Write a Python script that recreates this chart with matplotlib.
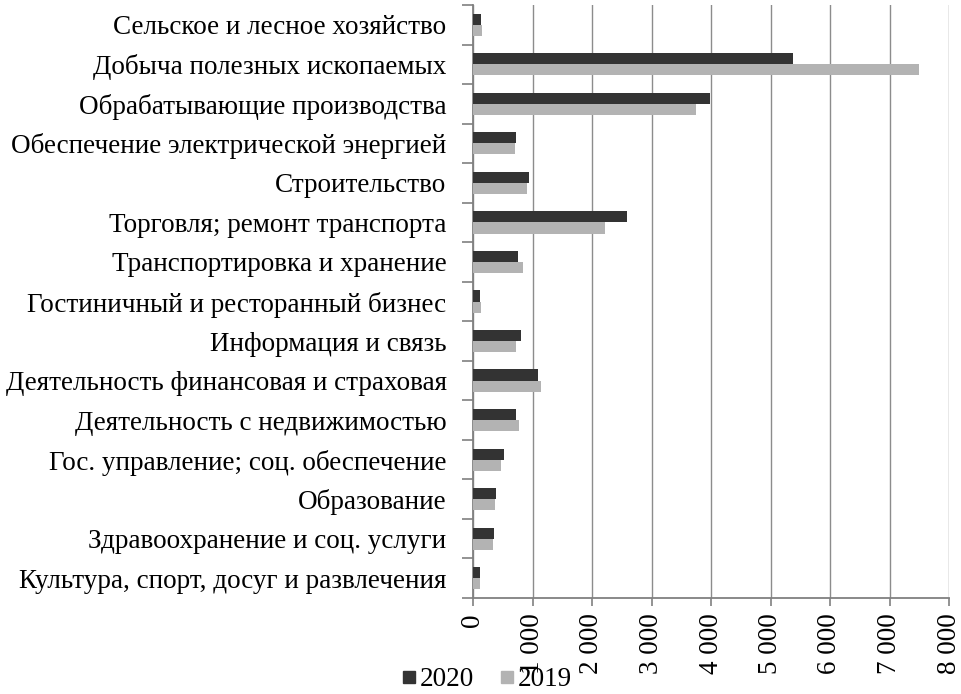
import matplotlib.pyplot as plt
import matplotlib.ticker as mticker
from matplotlib.lines import Line2D
import numpy as np

plt.rcParams['font.family'] = ['Liberation Serif', 'DejaVu Serif']

categories = [
    'Сельское и лесное хозяйство',
    'Добыча полезных ископаемых',
    'Обрабатывающие производства',
    'Обеспечение электрической энергией',
    'Строительство',
    'Торговля; ремонт транспорта',
    'Транспортировка и хранение',
    'Гостиничный и ресторанный бизнес',
    'Информация и связь',
    'Деятельность финансовая и страховая',
    'Деятельность с недвижимостью',
    'Гос. управление; соц. обеспечение',
    'Образование',
    'Здравоохранение и соц. услуги',
    'Культура, спорт, досуг и развлечения',
]
values_2020 = [140, 5370, 3990, 730, 945, 2585, 760, 112, 815, 1095, 725, 528, 393, 348, 118]
values_2019 = [146, 7500, 3750, 702, 905, 2213, 848, 140, 725, 1140, 770, 466, 376, 331, 124]
x_ticks = [0, 1000, 2000, 3000, 4000, 5000, 6000, 7000, 8000]

c2020 = '#333333'
c2019 = '#b3b3b3'
fs = 19.5

fig = plt.figure(figsize=(9.62, 6.94), dpi=100)
ax = fig.add_axes([473 / 962, 1 - 598 / 694, (949 - 473) / 962, (598 - 5) / 694])

n = len(categories)
y = np.arange(n)
h = 0.28
ax.barh(y - h / 2, values_2020, height=h, color=c2020, label='2020', zorder=3)
ax.barh(y + h / 2, values_2019, height=h, color=c2019, label='2019', zorder=3)

ax.set_ylim(n - 0.5, -0.5)
ax.set_xlim(0, 8000)
ax.set_yticks(y)
ax.set_yticklabels(categories, fontsize=fs)
ax.set_yticks(np.arange(-0.5, n, 1), minor=True)
ax.tick_params(axis='y', which='major', length=0, pad=19)
ax.tick_params(axis='y', which='minor', length=8, color='#808080', width=1.2)

ax.set_xticks(x_ticks)
ax.xaxis.set_major_formatter(mticker.FuncFormatter(lambda v, p: f'{int(v):,}'.replace(',', ' ')))
ax.tick_params(axis='x', length=6, color='#808080', width=1.2, labelsize=fs, labelrotation=90, pad=5)

ax.grid(axis='x', color='#8c8c8c', linewidth=1, zorder=0)
for s in ['top', 'right']:
    ax.spines[s].set_visible(False)
for s in ['left', 'bottom']:
    ax.spines[s].set_color('#808080')
    ax.spines[s].set_linewidth(1.3)

handles = [
    Line2D([], [], marker='s', linestyle='', color=c2020, markersize=9),
    Line2D([], [], marker='s', linestyle='', color=c2019, markersize=9),
]
fig.legend(handles, ['2020', '2019'], loc='center', bbox_to_anchor=(485 / 962, 1 - 680 / 694),
           ncol=2, frameon=False, fontsize=fs, handletextpad=0.0, columnspacing=0.8,
           handlelength=0.8, borderpad=0)

fig.savefig('out.png', dpi=100)
